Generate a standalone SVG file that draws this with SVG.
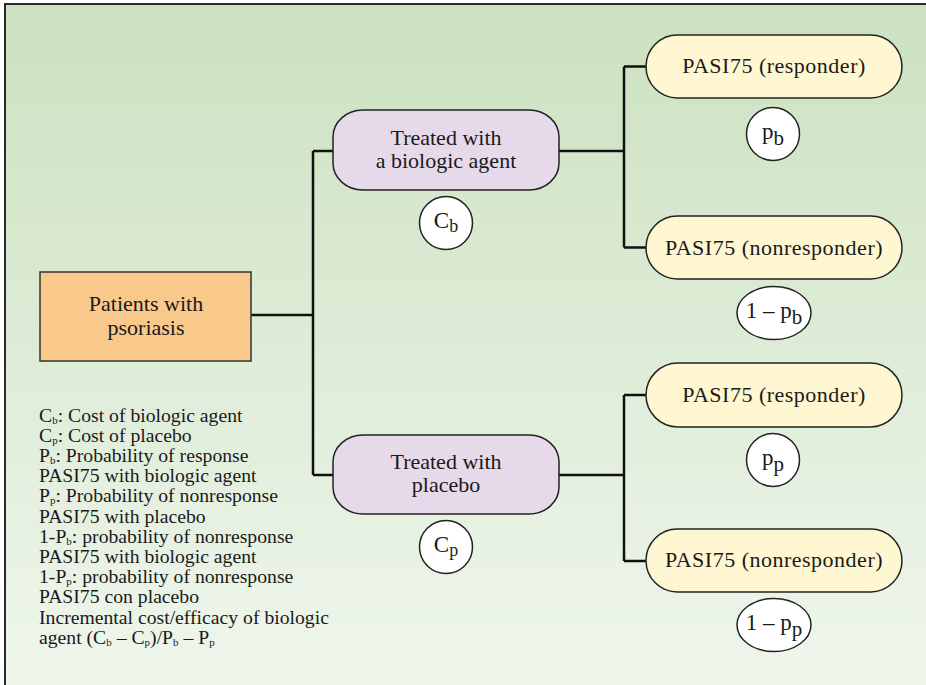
<svg xmlns="http://www.w3.org/2000/svg" width="926" height="685" viewBox="0 0 926 685">
<defs>
<linearGradient id="bg" x1="0" y1="0" x2="0" y2="1">
<stop offset="0" stop-color="#cbe1c0"/>
<stop offset="0.5" stop-color="#deecd7"/>
<stop offset="1" stop-color="#f0f7ee"/>
</linearGradient>
<style>
.frame{fill:url(#bg);stroke:#2a2a2a;stroke-width:2}
.conn{stroke:#111;stroke-width:2.5;fill:none}
.root{fill:#f9c98b;stroke:#333;stroke-width:1.5}
.trt{fill:#e6d9ea;stroke:#222;stroke-width:1.5}
.out{fill:#fef7d1;stroke:#222;stroke-width:1.5}
.prob{fill:#fff;stroke:#222;stroke-width:1.5}
text{font-family:"Liberation Serif","Times New Roman",serif;fill:#1a1a1a}
.nl{font-size:22px;text-anchor:middle}
.ol{font-size:22px;text-anchor:middle;letter-spacing:0.5px}
.pl{font-size:23px;text-anchor:middle}
.leg{font-size:19.7px}
.s{font-size:11px}
</style>
</defs>
<rect class="frame" x="5" y="4" width="940" height="700"/>
<g id="connectors">
<path class="conn" d="M251 315 H313 M313 151 V475 M313 151 H333 M313 475 H333"/>
<path class="conn" d="M559 151 H624 M624 66.5 V247.5 M624 66.5 H646 M624 247.5 H646"/>
<path class="conn" d="M559 475 H624 M624 395 V561 M624 395 H646 M624 561 H646"/>
</g>
<g id="root">
<rect class="root" x="40" y="272" width="211" height="89"/>
<text class="nl" x="146" y="311">Patients with</text>
<text class="nl" x="146" y="335">psoriasis</text>
</g>
<g id="biologic">
<rect class="trt" x="333" y="110" width="226" height="80" rx="30" ry="27"/>
<text class="nl" x="446" y="145">Treated with</text>
<text class="nl" x="446" y="168">a biologic agent</text>
</g>
<g id="cost-b">
<circle class="prob" cx="446" cy="223" r="26.5"/>
<text class="pl" x="446" y="228"><tspan>C</tspan><tspan font-size="18" dy="4">b</tspan></text>
</g>
<g id="placebo">
<rect class="trt" x="333" y="435" width="226" height="79" rx="30" ry="27"/>
<text class="nl" x="446" y="469">Treated with</text>
<text class="nl" x="446" y="492">placebo</text>
</g>
<g id="cost-p">
<circle class="prob" cx="446" cy="547" r="26.5"/>
<text class="pl" x="446" y="552"><tspan>C</tspan><tspan font-size="18" dy="4">p</tspan></text>
</g>
<g id="b-responder">
<rect class="out" x="646" y="35" width="256" height="63" rx="31.5"/>
<text class="ol" x="774" y="73">PASI75 (responder)</text>
</g>
<g id="prob-pb">
<circle class="prob" cx="773" cy="134" r="26.5"/>
<text class="pl" x="773" y="139"><tspan>p</tspan><tspan font-size="21" dy="6">b</tspan></text>
</g>
<g id="b-nonresponder">
<rect class="out" x="646" y="216" width="256" height="63" rx="31.5"/>
<text class="ol" x="774" y="255">PASI75 (nonresponder)</text>
</g>
<g id="prob-1pb">
<ellipse class="prob" cx="774" cy="313" rx="37" ry="26.5"/>
<text class="pl" x="774" y="318"><tspan>1 – p</tspan><tspan font-size="21" dy="6">b</tspan></text>
</g>
<g id="p-responder">
<rect class="out" x="646" y="363" width="256" height="64" rx="32"/>
<text class="ol" x="774" y="402">PASI75 (responder)</text>
</g>
<g id="prob-pp">
<circle class="prob" cx="773" cy="460" r="26.5"/>
<text class="pl" x="773" y="465"><tspan>p</tspan><tspan font-size="21" dy="6">p</tspan></text>
</g>
<g id="p-nonresponder">
<rect class="out" x="646" y="529" width="256" height="63" rx="31.5"/>
<text class="ol" x="774" y="567">PASI75 (nonresponder)</text>
</g>
<g id="prob-1pp">
<ellipse class="prob" cx="774" cy="625" rx="37" ry="26.5"/>
<text class="pl" x="774" y="630"><tspan>1 – p</tspan><tspan font-size="21" dy="6">p</tspan></text>
</g>
<g id="legend" class="leg">
<text x="39" y="421.5">C<tspan class="s" dy="2">b</tspan><tspan dy="-2">: Cost of biologic agent</tspan></text>
<text x="39" y="441.7">C<tspan class="s" dy="2">p</tspan><tspan dy="-2">: Cost of placebo</tspan></text>
<text x="39" y="461.9">P<tspan class="s" dy="2">b</tspan><tspan dy="-2">: Probability of response</tspan></text>
<text x="39" y="482.1">PASI75 with biologic agent</text>
<text x="39" y="502.3">P<tspan class="s" dy="2">p</tspan><tspan dy="-2">: Probability of nonresponse</tspan></text>
<text x="39" y="522.5">PASI75 with placebo</text>
<text x="39" y="542.7">1-P<tspan class="s" dy="2">b</tspan><tspan dy="-2">: probability of nonresponse</tspan></text>
<text x="39" y="562.9">PASI75 with biologic agent</text>
<text x="39" y="583.1">1-P<tspan class="s" dy="2">p</tspan><tspan dy="-2">: probability of nonresponse</tspan></text>
<text x="39" y="603.3">PASI75 con placebo</text>
<text x="39" y="623.5">Incremental cost/efficacy of biologic</text>
<text x="39" y="643.7">agent (C<tspan class="s" dy="2">b</tspan><tspan dy="-2"> – C</tspan><tspan class="s" dy="2">p</tspan><tspan dy="-2">)/P</tspan><tspan class="s" dy="2">b</tspan><tspan dy="-2"> – P</tspan><tspan class="s" dy="2">p</tspan></text>
</g>
</svg>
